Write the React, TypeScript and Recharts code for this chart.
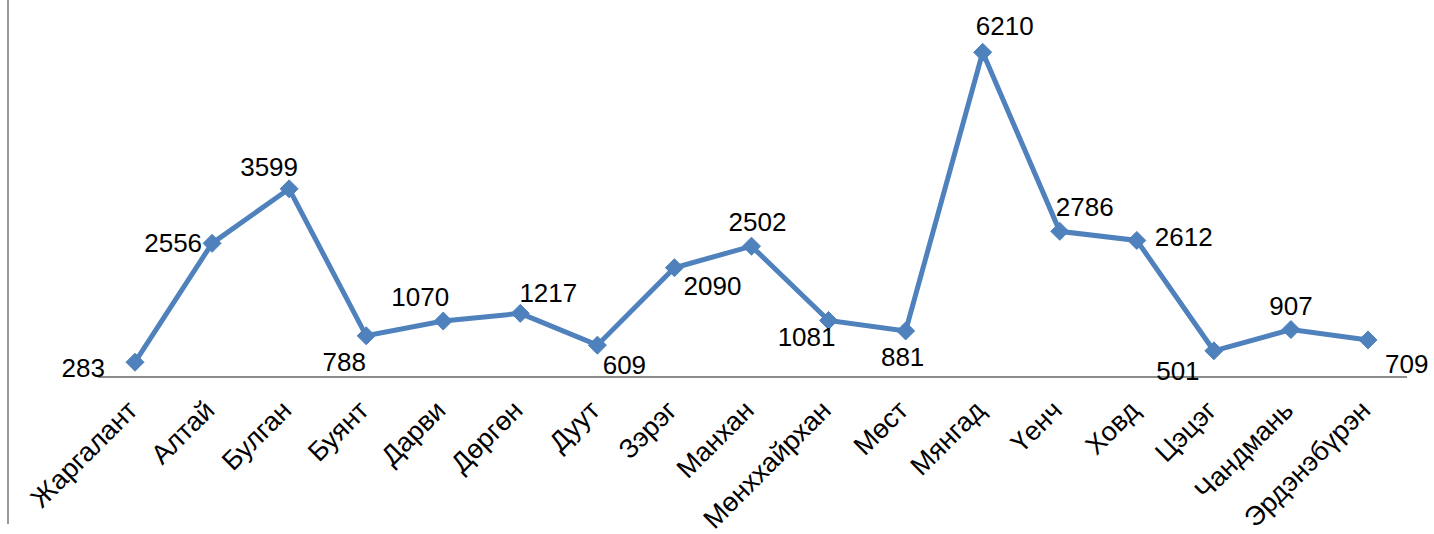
import React from 'react';
import { LineChart, Line, XAxis, YAxis, LabelList } from 'recharts';

// Sums by soum
const soums = [
  'Жаргалант', 'Алтай', 'Булган', 'Буянт', 'Дарви', 'Дөргөн', 'Дуут', 'Зэрэг', 'Манхан',
  'Мөнххайрхан', 'Мөст', 'Мянгад', 'Үенч', 'Ховд', 'Цэцэг', 'Чандмань', 'Эрдэнэбүрэн',
];
const counts = [283, 2556, 3599, 788, 1070, 1217, 609, 2090, 2502, 1081, 881, 6210, 2786, 2612, 501, 907, 709];

// where each value label sits relative to its point [dx, dy, anchor]
const labelPlacement: [number, number, string][] = [
  [-30, 6, 'end'], [-10, 0, 'end'], [-20, -22, 'middle'], [-22, 26, 'middle'],
  [-23, -24, 'middle'], [28, -20, 'middle'], [27, 20, 'middle'], [38, 18, 'middle'],
  [6, -24, 'middle'], [-22, 16, 'middle'], [-3, 26, 'middle'], [22, -26, 'middle'],
  [25, -24, 'middle'], [18, -4, 'start'], [-36, 20, 'middle'], [0, -24, 'middle'],
  [17, 24, 'start'],
];

const data = soums.map((name, i) => ({ name, value: counts[i] }));

const BLUE = '#4F81BD';
const FONT = "'Liberation Sans', Arial, sans-serif";

const Diamond = (props: any) => {
  const { cx, cy } = props;
  if (cx == null || cy == null) return null;
  const s = 9;
  return (
    <polygon
      points={`${cx},${cy - s} ${cx + s},${cy} ${cx},${cy + s} ${cx - s},${cy}`}
      fill={BLUE}
      stroke={BLUE}
    />
  );
};

const CategoryTick = (props: any) => {
  const { x, y, payload } = props;
  return (
    <g transform={`translate(${x + 4},${y + 27})`}>
      <text transform="rotate(-45)" textAnchor="end" fontSize={27} fill="#000" fontFamily={FONT}>
        {payload.value}
      </text>
    </g>
  );
};

const ValueLabel = (props: any) => {
  const { x, y, value, index } = props;
  const [dx, dy, anchor] = labelPlacement[index];
  return (
    <text
      x={x + dx}
      y={y + dy}
      dy="0.35em"
      textAnchor={anchor}
      fontSize={26}
      fill="#000"
      fontFamily={FONT}
    >
      {value}
    </text>
  );
};

export default function App() {
  return (
    <div style={{ position: 'absolute', left: 0, top: 0, width: 1434, height: 534, background: '#fff' }}>
      <div
        style={{
          position: 'absolute',
          left: 7,
          top: 0,
          width: 2,
          height: 524,
          background: '#9a9a9a',
        }}
      />
      <LineChart
        width={1434}
        height={534}
        data={data}
        margin={{ top: 11, right: 27, left: 98, bottom: 7 }}
      >
        <XAxis
          dataKey="name"
          interval={0}
          height={150}
          padding={{ left: 37, right: 39 }}
          tickLine={false}
          axisLine={{ stroke: '#8c8c8c', strokeWidth: 2 }}
          tick={<CategoryTick />}
        />
        <YAxis hide domain={[0, 7000]} />
        <Line
          type="linear"
          dataKey="value"
          stroke={BLUE}
          strokeWidth={5}
          dot={<Diamond />}
          activeDot={false}
          isAnimationActive={false}
        >
          <LabelList dataKey="value" content={<ValueLabel />} />
        </Line>
      </LineChart>
    </div>
  );
}
